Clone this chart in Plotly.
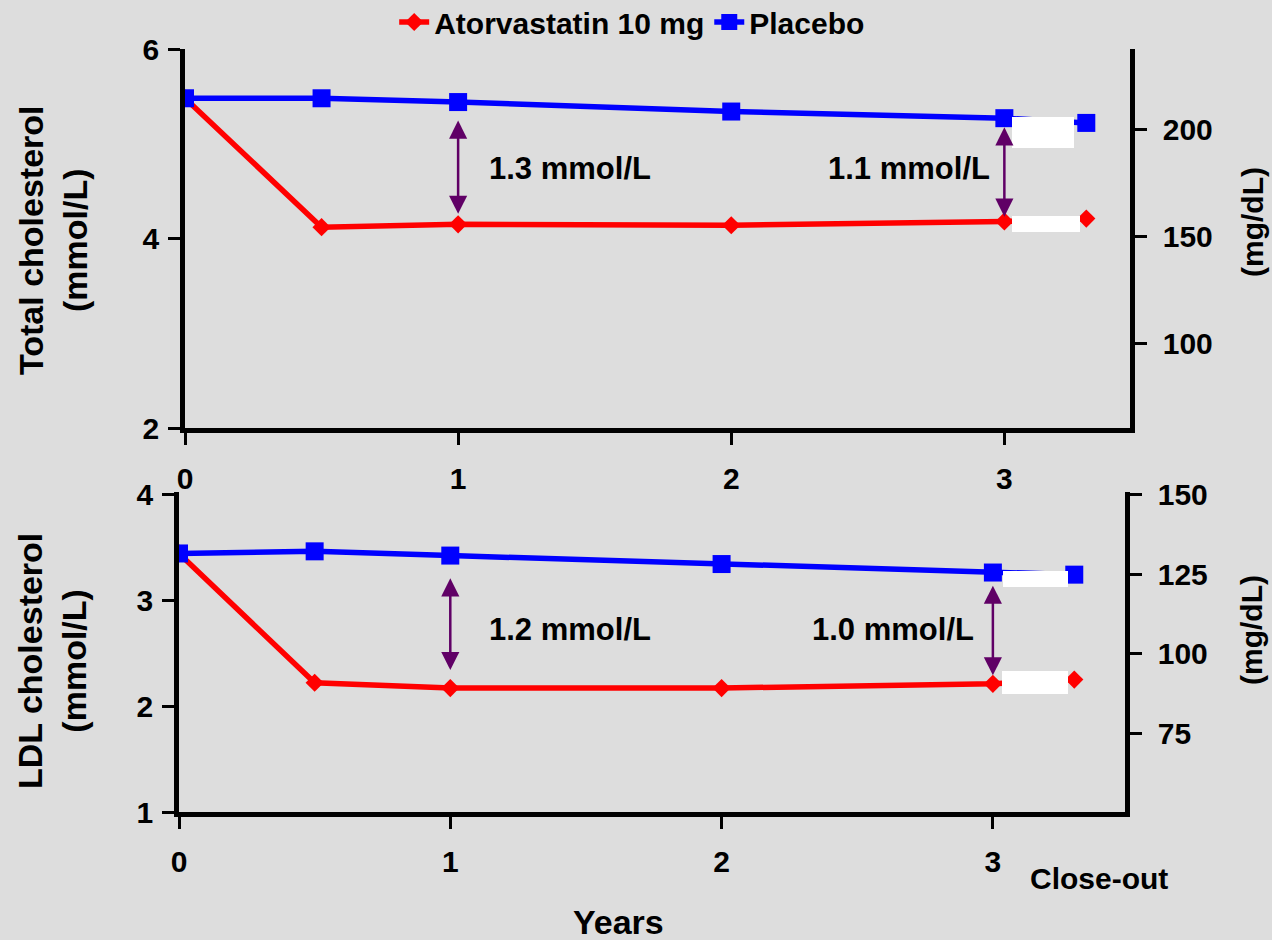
import plotly.graph_objects as go

W, H = 1272, 940

# ---------------- data ----------------
years = [0, 0.5, 1, 2, 3, 3.3]
x_tick_vals = [0, 1, 2, 3]
x_tick_text = ["0", "1", "2", "3"]

tc_atorvastatin = [5.48, 4.12, 4.15, 4.14, 4.18, 4.21]
tc_placebo = [5.48, 5.48, 5.44, 5.34, 5.27, 5.22]
ldl_atorvastatin = [3.44, 2.22, 2.17, 2.17, 2.21, 2.25]
ldl_placebo = [3.44, 3.46, 3.42, 3.34, 3.26, 3.24]

tc_left_ticks = [2, 4, 6]
tc_right_ticks = [100, 150, 200]
ldl_left_ticks = [1, 2, 3, 4]
ldl_right_ticks = [75, 100, 125, 150]

tc_gap_years = [1, 3]
tc_gap_labels = ["1.3 mmol/L", "1.1 mmol/L"]
ldl_gap_years = [1, 3]
ldl_gap_labels = ["1.2 mmol/L", "1.0 mmol/L"]

series_names = ["Atorvastatin 10 mg", "Placebo"]

# ---------------- style ----------------
FONT = "Liberation Sans, Arial, Helvetica, sans-serif"
BG = "#DDDDDD"
RED = "#FF0000"
BLUE = "#0000FF"
PURPLE = "#600066"


def px(x):
    return x / W


def py(y):
    return 1 - y / H


fig = go.Figure()

line_w = 5.5
red_marker = dict(symbol="diamond", size=14, color=RED)
blue_marker = dict(symbol="square", size=18, color=BLUE)

# top panel
fig.add_trace(go.Scatter(x=years, y=tc_atorvastatin, name=series_names[0],
                         mode="lines+markers", line=dict(color=RED, width=line_w),
                         marker=red_marker, xaxis="x", yaxis="y"))
fig.add_trace(go.Scatter(x=years, y=tc_placebo, name=series_names[1],
                         mode="lines+markers", line=dict(color=BLUE, width=line_w),
                         marker=blue_marker, xaxis="x", yaxis="y"))
# bottom panel
fig.add_trace(go.Scatter(x=years, y=ldl_atorvastatin, name=series_names[0],
                         mode="lines+markers", line=dict(color=RED, width=line_w),
                         marker=red_marker, xaxis="x2", yaxis="y3", showlegend=False))
fig.add_trace(go.Scatter(x=years, y=ldl_placebo, name=series_names[1],
                         mode="lines+markers", line=dict(color=BLUE, width=line_w),
                         marker=blue_marker, xaxis="x2", yaxis="y3", showlegend=False))
# carriers for the mg/dL axes
fig.add_trace(go.Scatter(x=[None], y=[None], xaxis="x", yaxis="y2",
                         showlegend=False, hoverinfo="skip"))
fig.add_trace(go.Scatter(x=[None], y=[None], xaxis="x2", yaxis="y4",
                         showlegend=False, hoverinfo="skip"))

tickfont = dict(family=FONT, size=30, color="black", weight="bold")
axis_common = dict(showline=True, linecolor="black", linewidth=4.5, ticks="outside",
                   ticklen=12, tickwidth=3, tickcolor="black", showgrid=False,
                   zeroline=False, tickfont=tickfont, automargin=False, fixedrange=True)

fig.update_layout(
    width=W, height=H,
    margin=dict(l=0, r=0, t=0, b=0, autoexpand=False),
    paper_bgcolor=BG, plot_bgcolor=BG,
    font=dict(family=FONT, size=30, color="black", weight="bold"),
    showlegend=True,
    legend=dict(orientation="h", x=0.497, xanchor="center", y=py(-4), yanchor="top",
                bgcolor="rgba(0,0,0,0)", font=dict(family=FONT, size=30, weight="bold"),
                itemwidth=30, tracegroupgap=0),
    xaxis=dict(domain=[px(185), px(1130)], range=[0, 3.46], anchor="y",
               tickvals=x_tick_vals, ticktext=x_tick_text, ticklabelstandoff=8,
               **axis_common),
    yaxis=dict(domain=[py(428), py(49)], range=[2, 6], anchor="x",
               tickvals=tc_left_ticks, ticklabelstandoff=3, **axis_common),
    yaxis2=dict(overlaying="y", side="right", anchor="x", range=[60.7, 237.4],
                tickvals=tc_right_ticks, ticklabelstandoff=10, **axis_common),
    xaxis2=dict(domain=[px(179), px(1125)], range=[0, 3.487], anchor="y3",
                tickvals=x_tick_vals, ticktext=x_tick_text, ticklabelstandoff=7,
                **axis_common),
    yaxis3=dict(domain=[py(812), py(492)], range=[1, 4.02], anchor="x2",
                tickvals=ldl_left_ticks, ticklabelstandoff=3, **axis_common),
    yaxis4=dict(overlaying="y3", side="right", anchor="x2", range=[50.3, 150.8],
                tickvals=ldl_right_ticks, ticklabelstandoff=10, **axis_common),
)

annotations = []

# double-headed difference arrows (data coordinates)
arrow_style = dict(showarrow=True, arrowcolor=PURPLE, arrowwidth=2.5, arrowhead=2,
                   startarrowhead=2, arrowsize=1.45, startarrowsize=1.45,
                   arrowside="end+start", text="", standoff=0, startstandoff=0)
top_arrows = [(5.26, 4.26), (5.19, 4.23)]
for xv, (hi, lo) in zip(tc_gap_years, top_arrows):
    annotations.append(dict(x=xv, y=lo, ax=xv, ay=hi, xref="x", yref="y",
                            axref="x", ayref="y", **arrow_style))
bot_arrows = [(3.22, 2.34), (3.15, 2.29)]
for xv, (hi, lo) in zip(ldl_gap_years, bot_arrows):
    annotations.append(dict(x=xv, y=lo, ax=xv, ay=hi, xref="x2", yref="y3",
                            axref="x2", ayref="y3", **arrow_style))

label_font = dict(family=FONT, size=31, color="black", weight="bold")
for xv, lbl in zip([1.41, 2.65], tc_gap_labels):
    annotations.append(dict(x=xv, y=4.74, xref="x", yref="y", text=lbl,
                            showarrow=False, font=label_font,
                            xanchor="center", yanchor="middle"))
for xv, lbl in zip([1.44, 2.63], ldl_gap_labels):
    annotations.append(dict(x=xv, y=2.72, xref="x2", yref="y3", text=lbl,
                            showarrow=False, font=label_font,
                            xanchor="center", yanchor="middle"))

title_font = dict(family=FONT, size=34, color="black", weight="bold")
txt30 = dict(family=FONT, size=30, color="black", weight="bold")
centre = dict(xref="paper", yref="paper", showarrow=False,
              xanchor="center", yanchor="middle")
annotations += [
    dict(x=px(53), y=py(240), textangle=-90, text="Total cholesterol<br>(mmol/L)",
         font=title_font, **centre),
    dict(x=px(52), y=py(661), textangle=-90, text="LDL cholesterol<br>(mmol/L)",
         font=title_font, **centre),
    dict(x=px(1252), y=py(222), textangle=-90, text="(mg/dL)", font=txt30, **centre),
    dict(x=px(1251), y=py(630), textangle=-90, text="(mg/dL)", font=txt30, **centre),
    dict(x=px(1099), y=py(878), text="Close-out", font=txt30, **centre),
    dict(x=px(618), y=py(922), text="Years", font=title_font, **centre),
]
fig.update_layout(annotations=annotations)

# white masking boxes next to the close-out points
boxes = [(1012, 117, 1074, 148), (1012, 216, 1080, 232),
         (1003, 571, 1068, 587), (1002, 671, 1068, 694)]
fig.update_layout(shapes=[
    dict(type="rect", xref="paper", yref="paper", x0=px(a), x1=px(c), y0=py(d), y1=py(b),
         fillcolor="white", line=dict(width=0), layer="above")
    for a, b, c, d in boxes
])

fig.write_html("out.html", config={"displayModeBar": False},
               post_script="document.body.style.margin='0';document.body.style.overflow='hidden';")
